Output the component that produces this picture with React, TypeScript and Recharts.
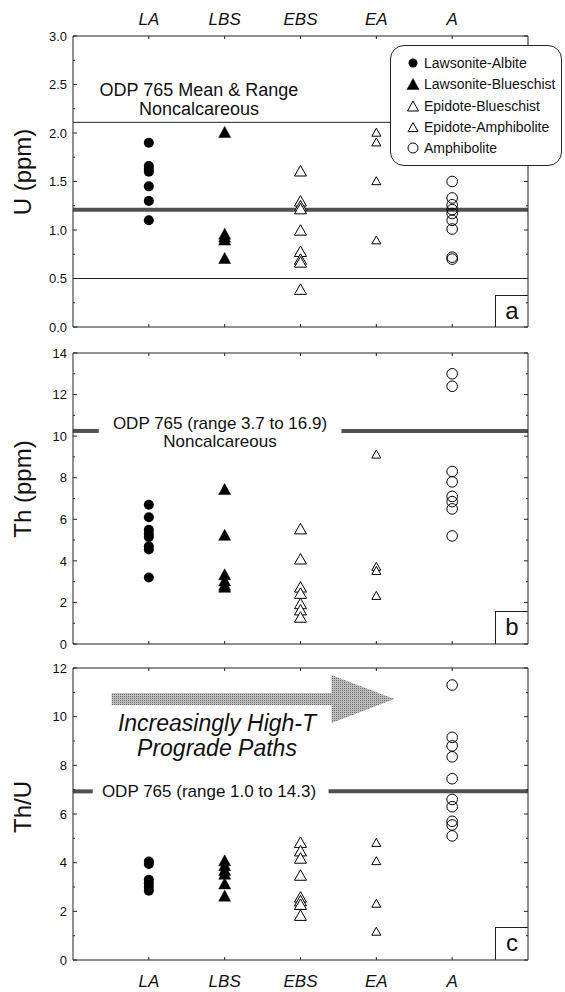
import React from "react";
import { ReferenceLine, Scatter, ScatterChart, XAxis, YAxis } from "recharts";

const FONT = '"Liberation Sans", Arial, Helvetica, sans-serif';
const INK = "#222";

const categories = ["LA", "LBS", "EBS", "EA", "A"];
const catTicks = [1, 2, 3, 4, 5];

// panel a: U (ppm)
const uLA = [1.9, 1.66, 1.63, 1.6, 1.45, 1.3, 1.1];
const uLBS = [2.0, 0.95, 0.92, 0.89, 0.7];
const uEBS = [1.6, 1.29, 1.24, 1.21, 0.99, 0.77, 0.69, 0.66, 0.38];
const uEA = [2.0, 1.9, 1.5, 0.89];
const uA = [1.5, 1.33, 1.26, 1.21, 1.17, 1.1, 1.01, 0.72, 0.7];
const uTicks = [0, 0.5, 1, 1.5, 2, 2.5, 3];
const uMinor = [0.25, 0.75, 1.25, 1.75, 2.25, 2.75];
const uMean = 1.21;
const uRange = [0.5, 2.11];

// panel b: Th (ppm)
const thLA = [6.7, 6.1, 5.5, 5.3, 5.15, 4.7, 4.55, 3.2];
const thLBS = [7.4, 5.2, 3.3, 3.0, 2.8, 2.7];
const thEBS = [5.5, 4.05, 2.7, 2.4, 1.9, 1.6, 1.25];
const thEA = [9.1, 3.7, 3.5, 2.3];
const thA = [13.0, 12.4, 8.3, 7.8, 7.1, 6.85, 6.5, 5.2];
const thTicks = [0, 2, 4, 6, 8, 10, 12, 14];
const thMinor = [1, 3, 5, 7, 9, 11, 13];
const thMean = 10.25;
const thGap = [0.34, 3.54];

// panel c: Th/U
const ratioLA = [4.05, 3.95, 3.3, 3.15, 3.0, 2.85];
const ratioLBS = [4.05, 3.85, 3.65, 3.5, 3.1, 2.6];
const ratioEBS = [4.8, 4.45, 4.15, 3.45, 2.55, 2.4, 2.25, 1.8];
const ratioEA = [4.8, 4.05, 2.3, 1.15];
const ratioA = [11.3, 9.15, 8.8, 8.35, 7.45, 6.6, 6.3, 5.7, 5.55, 5.1];
const ratioTicks = [0, 2, 4, 6, 8, 10, 12];
const ratioMinor = [1, 3, 5, 7, 9, 11];
const ratioMean = 6.93;
const ratioGap = [0.26, 3.37];
const arrowSpan = [0.51, 4.24];
const arrowLevel = 10.73;

const pts = (cat: number, vals: number[]) => vals.map((v) => ({ x: cat, y: v }));
const catFmt = (v: number) => categories[v - 1] ?? "";
const isMajor = (majors: number[], v: number) => majors.some((t) => Math.abs(t - v) < 1e-9);

function tri(cx: number, cy: number, hw: number, h: number, fill: string) {
  const top = cy - h * 0.6;
  const bot = cy + h * 0.4;
  return (
    <polygon
      points={`${cx},${top} ${cx - hw},${bot} ${cx + hw},${bot}`}
      fill={fill}
      stroke="#000"
      strokeWidth={fill === "#000" ? 0.5 : 1}
    />
  );
}

const DotShape = (p: any) => <circle cx={p.cx} cy={p.cy} r={5} fill="#000" />;
const FilledTri = (p: any) => tri(p.cx, p.cy, 6, 11, "#000");
const OpenTri = (p: any) => tri(p.cx, p.cy, 6, 10.5, "#fff");
const SmallTri = (p: any) => tri(p.cx, p.cy, 4.5, 8, "#fff");
const Ring = (p: any) => <circle cx={p.cx} cy={p.cy} r={5.3} fill="none" stroke="#000" strokeWidth={1} />;

const shapes = [DotShape, FilledTri, OpenTri, SmallTri, Ring];

const ArrowShape = (p: any) => {
  const { x1, y1, x2 } = p;
  const hb = x2 - 63;
  const s = 6;
  const h = 24;
  const points = `${x1},${y1 - s} ${hb},${y1 - s} ${hb},${y1 - h} ${x2},${y1} ${hb},${y1 + h} ${hb},${y1 + s} ${x1},${y1 + s}`;
  return (
    <g>
      <defs>
        <pattern id="stip" width="2" height="2" patternUnits="userSpaceOnUse">
          <rect width="2" height="2" fill="#bdbdbd" />
          <rect width="1" height="1" fill="#707070" />
        </pattern>
      </defs>
      <polygon points={points} fill="url(#stip)" />
    </g>
  );
};

// tick renderers: inward tick marks plus optional outside labels
const leftTick = (majors: number[], fmt: (v: number) => string) => (p: any) => {
  const v = p.payload.value;
  const major = isMajor(majors, v);
  return (
    <g>
      <line x1={p.x} x2={p.x + (major ? 4 : 2)} y1={p.y} y2={p.y} stroke={INK} />
      {major && (
        <text x={p.x - 6} y={p.y} dy="0.36em" textAnchor="end" fontSize={13} fill="#111">
          {fmt(v)}
        </text>
      )}
    </g>
  );
};

const rightTick = (majors: number[]) => (p: any) => {
  const major = isMajor(majors, p.payload.value);
  return <line x1={p.x} x2={p.x - (major ? 4 : 2)} y1={p.y} y2={p.y} stroke={INK} />;
};

const topTick = (withLabel: boolean) => (p: any) => (
  <g>
    <line x1={p.x} x2={p.x} y1={p.y} y2={p.y + 3} stroke={INK} />
    {withLabel && (
      <text x={p.x} y={p.y - 11} textAnchor="middle" fontSize={17} fontStyle="italic" fill="#111">
        {catFmt(p.payload.value)}
      </text>
    )}
  </g>
);

const bottomTick = (withLabel: boolean) => (p: any) => (
  <g>
    <line x1={p.x} x2={p.x} y1={p.y} y2={p.y - 3} stroke={INK} />
    {withLabel && (
      <text x={p.x} y={p.y + 27} textAnchor="middle" fontSize={17} fontStyle="italic" fill="#111">
        {catFmt(p.payload.value)}
      </text>
    )}
  </g>
);

type PanelProps = {
  top: number;
  height: number;
  plotTop: number;
  plotBottom: number;
  domain: [number, number];
  ticks: number[];
  minor: number[];
  fmt: (v: number) => string;
  groups: number[][];
  labelsTop?: boolean;
  labelsBottom?: boolean;
  children?: React.ReactNode;
};

function Panel({ top, height, plotTop, plotBottom, domain, ticks, minor, fmt, groups, labelsTop, labelsBottom, children }: PanelProps) {
  const line = { stroke: INK, strokeWidth: 1 };
  const allY = [...ticks, ...minor].sort((a, b) => a - b);
  return (
    <div style={{ position: "absolute", left: 0, top, width: 565, height }}>
      <ScatterChart width={565} height={height} margin={{ top: plotTop - top, right: 37, bottom: top + height - plotBottom, left: 73 }}>
        <XAxis xAxisId="t" orientation="top" mirror type="number" dataKey="x" domain={[0, 6]} ticks={catTicks} interval={0} tickSize={0} tickMargin={0} tickLine={false} axisLine={line} tick={topTick(!!labelsTop)} allowDataOverflow />
        <XAxis xAxisId="b" orientation="bottom" mirror type="number" dataKey="x" domain={[0, 6]} ticks={catTicks} interval={0} tickSize={0} tickMargin={0} tickLine={false} axisLine={line} tick={bottomTick(!!labelsBottom)} allowDataOverflow />
        <YAxis yAxisId="l" orientation="left" mirror type="number" dataKey="y" domain={domain} ticks={allY} interval={0} tickSize={0} tickMargin={0} tickLine={false} axisLine={line} tick={leftTick(ticks, fmt)} allowDataOverflow />
        <YAxis yAxisId="r" orientation="right" mirror type="number" dataKey="y" domain={domain} ticks={allY} interval={0} tickSize={0} tickMargin={0} tickLine={false} axisLine={line} tick={rightTick(ticks)} allowDataOverflow />
        {children}
        {groups.map((vals, i) => (
          <Scatter key={categories[i]} name={categories[i]} data={pts(i + 1, vals)} xAxisId="b" yAxisId="l" shape={shapes[i]} isAnimationActive={false} />
        ))}
      </ScatterChart>
    </div>
  );
}

const legendItems = ["Lawsonite-Albite", "Lawsonite-Blueschist", "Epidote-Blueschist", "Epidote-Amphibolite", "Amphibolite"];

function LegendIcon({ i }: { i: number }) {
  const c = 7;
  let el: React.ReactNode;
  if (i === 0) el = <circle cx={c} cy={c} r={4.5} fill="#000" />;
  else if (i === 1) el = tri(c, c + 1, 6, 11, "#000");
  else if (i === 2) el = tri(c, c + 1, 5.5, 10, "#fff");
  else if (i === 3) el = tri(c, c + 1, 5, 9, "#fff");
  else el = <circle cx={c} cy={c} r={5} fill="none" stroke="#000" />;
  return (
    <svg width={14} height={14} style={{ position: "absolute", left: 15, top: 3 }}>
      {el}
    </svg>
  );
}

function Legend() {
  return (
    <div style={{ position: "absolute", left: 390, top: 45, width: 172, height: 121, border: `1px solid ${INK}`, borderRadius: 14, background: "#fff", boxSizing: "border-box" }}>
      {legendItems.map((t, i) => (
        <div key={t} style={{ position: "absolute", left: 0, top: 7 + i * 21.3, height: 20, width: 170 }}>
          <LegendIcon i={i} />
          <span style={{ position: "absolute", left: 33, top: 1, fontSize: 14, lineHeight: "18px", whiteSpace: "nowrap", color: "#111" }}>{t}</span>
        </div>
      ))}
    </div>
  );
}

function Note({ x, y, w, lh, size, italic, lines }: { x: number; y: number; w: number; lh: number; size: number; italic?: boolean; lines: string[] }) {
  return (
    <div style={{ position: "absolute", left: x - w / 2, top: y, width: w, textAlign: "center", fontSize: size, lineHeight: `${lh}px`, fontStyle: italic ? "italic" : "normal", color: "#111", whiteSpace: "nowrap" }}>
      {lines.map((l) => (
        <div key={l}>{l}</div>
      ))}
    </div>
  );
}

function YTitle({ text, cy }: { text: string; cy: number }) {
  return (
    <div style={{ position: "absolute", left: 23 - 100, top: cy - 14, width: 200, height: 28, lineHeight: "28px", textAlign: "center", fontSize: 24, color: "#111", transform: "rotate(-90deg)" }}>
      {text}
    </div>
  );
}

function PanelTag({ letter, top, h }: { letter: string; top: number; h: number }) {
  return (
    <div style={{ position: "absolute", left: 495, top, width: 33, height: h, borderLeft: `1px solid ${INK}`, borderTop: `1px solid ${INK}`, boxSizing: "border-box", textAlign: "center", fontSize: 24, lineHeight: `${h - 3}px`, color: "#111" }}>
      {letter}
    </div>
  );
}

export default function App() {
  const mean = { stroke: "#505050", strokeWidth: 4 };
  return (
    <div style={{ position: "absolute", left: 0, top: 0, width: 565, height: 992, fontFamily: FONT, background: "#fff" }}>
      <Panel top={0} height={340} plotTop={36} plotBottom={327} domain={[0, 3]} ticks={uTicks} minor={uMinor} fmt={(v) => v.toFixed(1)} groups={[uLA, uLBS, uEBS, uEA, uA]} labelsTop>
        <ReferenceLine xAxisId="b" yAxisId="l" y={uRange[1]} stroke={INK} strokeWidth={1} />
        <ReferenceLine xAxisId="b" yAxisId="l" y={uRange[0]} stroke={INK} strokeWidth={1} />
        <ReferenceLine xAxisId="b" yAxisId="l" y={uMean} {...mean} />
      </Panel>
      <Panel top={340} height={318} plotTop={353} plotBottom={644} domain={[0, 14]} ticks={thTicks} minor={thMinor} fmt={(v) => String(v)} groups={[thLA, thLBS, thEBS, thEA, thA]}>
        <ReferenceLine xAxisId="b" yAxisId="l" segment={[{ x: 0, y: thMean }, { x: thGap[0], y: thMean }]} {...mean} />
        <ReferenceLine xAxisId="b" yAxisId="l" segment={[{ x: thGap[1], y: thMean }, { x: 6, y: thMean }]} {...mean} />
      </Panel>
      <Panel top={650} height={342} plotTop={668} plotBottom={960} domain={[0, 12]} ticks={ratioTicks} minor={ratioMinor} fmt={(v) => String(v)} groups={[ratioLA, ratioLBS, ratioEBS, ratioEA, ratioA]} labelsBottom>
        <ReferenceLine xAxisId="b" yAxisId="l" segment={[{ x: 0, y: ratioMean }, { x: ratioGap[0], y: ratioMean }]} {...mean} />
        <ReferenceLine xAxisId="b" yAxisId="l" segment={[{ x: ratioGap[1], y: ratioMean }, { x: 6, y: ratioMean }]} {...mean} />
        <ReferenceLine xAxisId="b" yAxisId="l" segment={[{ x: arrowSpan[0], y: arrowLevel }, { x: arrowSpan[1], y: arrowLevel }]} shape={ArrowShape} />
      </Panel>

      <Legend />
      <Note x={199} y={81} w={320} lh={19} size={18} lines={["ODP 765 Mean & Range", "Noncalcareous"]} />
      <Note x={220} y={415} w={320} lh={18} size={17} lines={["ODP 765 (range 3.7 to 16.9)", "Noncalcareous"]} />
      <Note x={209} y={783} w={320} lh={18} size={17} lines={["ODP 765 (range 1.0 to 14.3)"]} />
      <Note x={217} y={711} w={320} lh={25} size={23} italic lines={["Increasingly High-T", "Prograde Paths"]} />

      <YTitle text="U (ppm)" cy={172} />
      <YTitle text="Th (ppm)" cy={489} />
      <YTitle text="Th/U" cy={807} />

      <PanelTag letter="a" top={295} h={32} />
      <PanelTag letter="b" top={611} h={33} />
      <PanelTag letter="c" top={927} h={33} />
    </div>
  );
}
